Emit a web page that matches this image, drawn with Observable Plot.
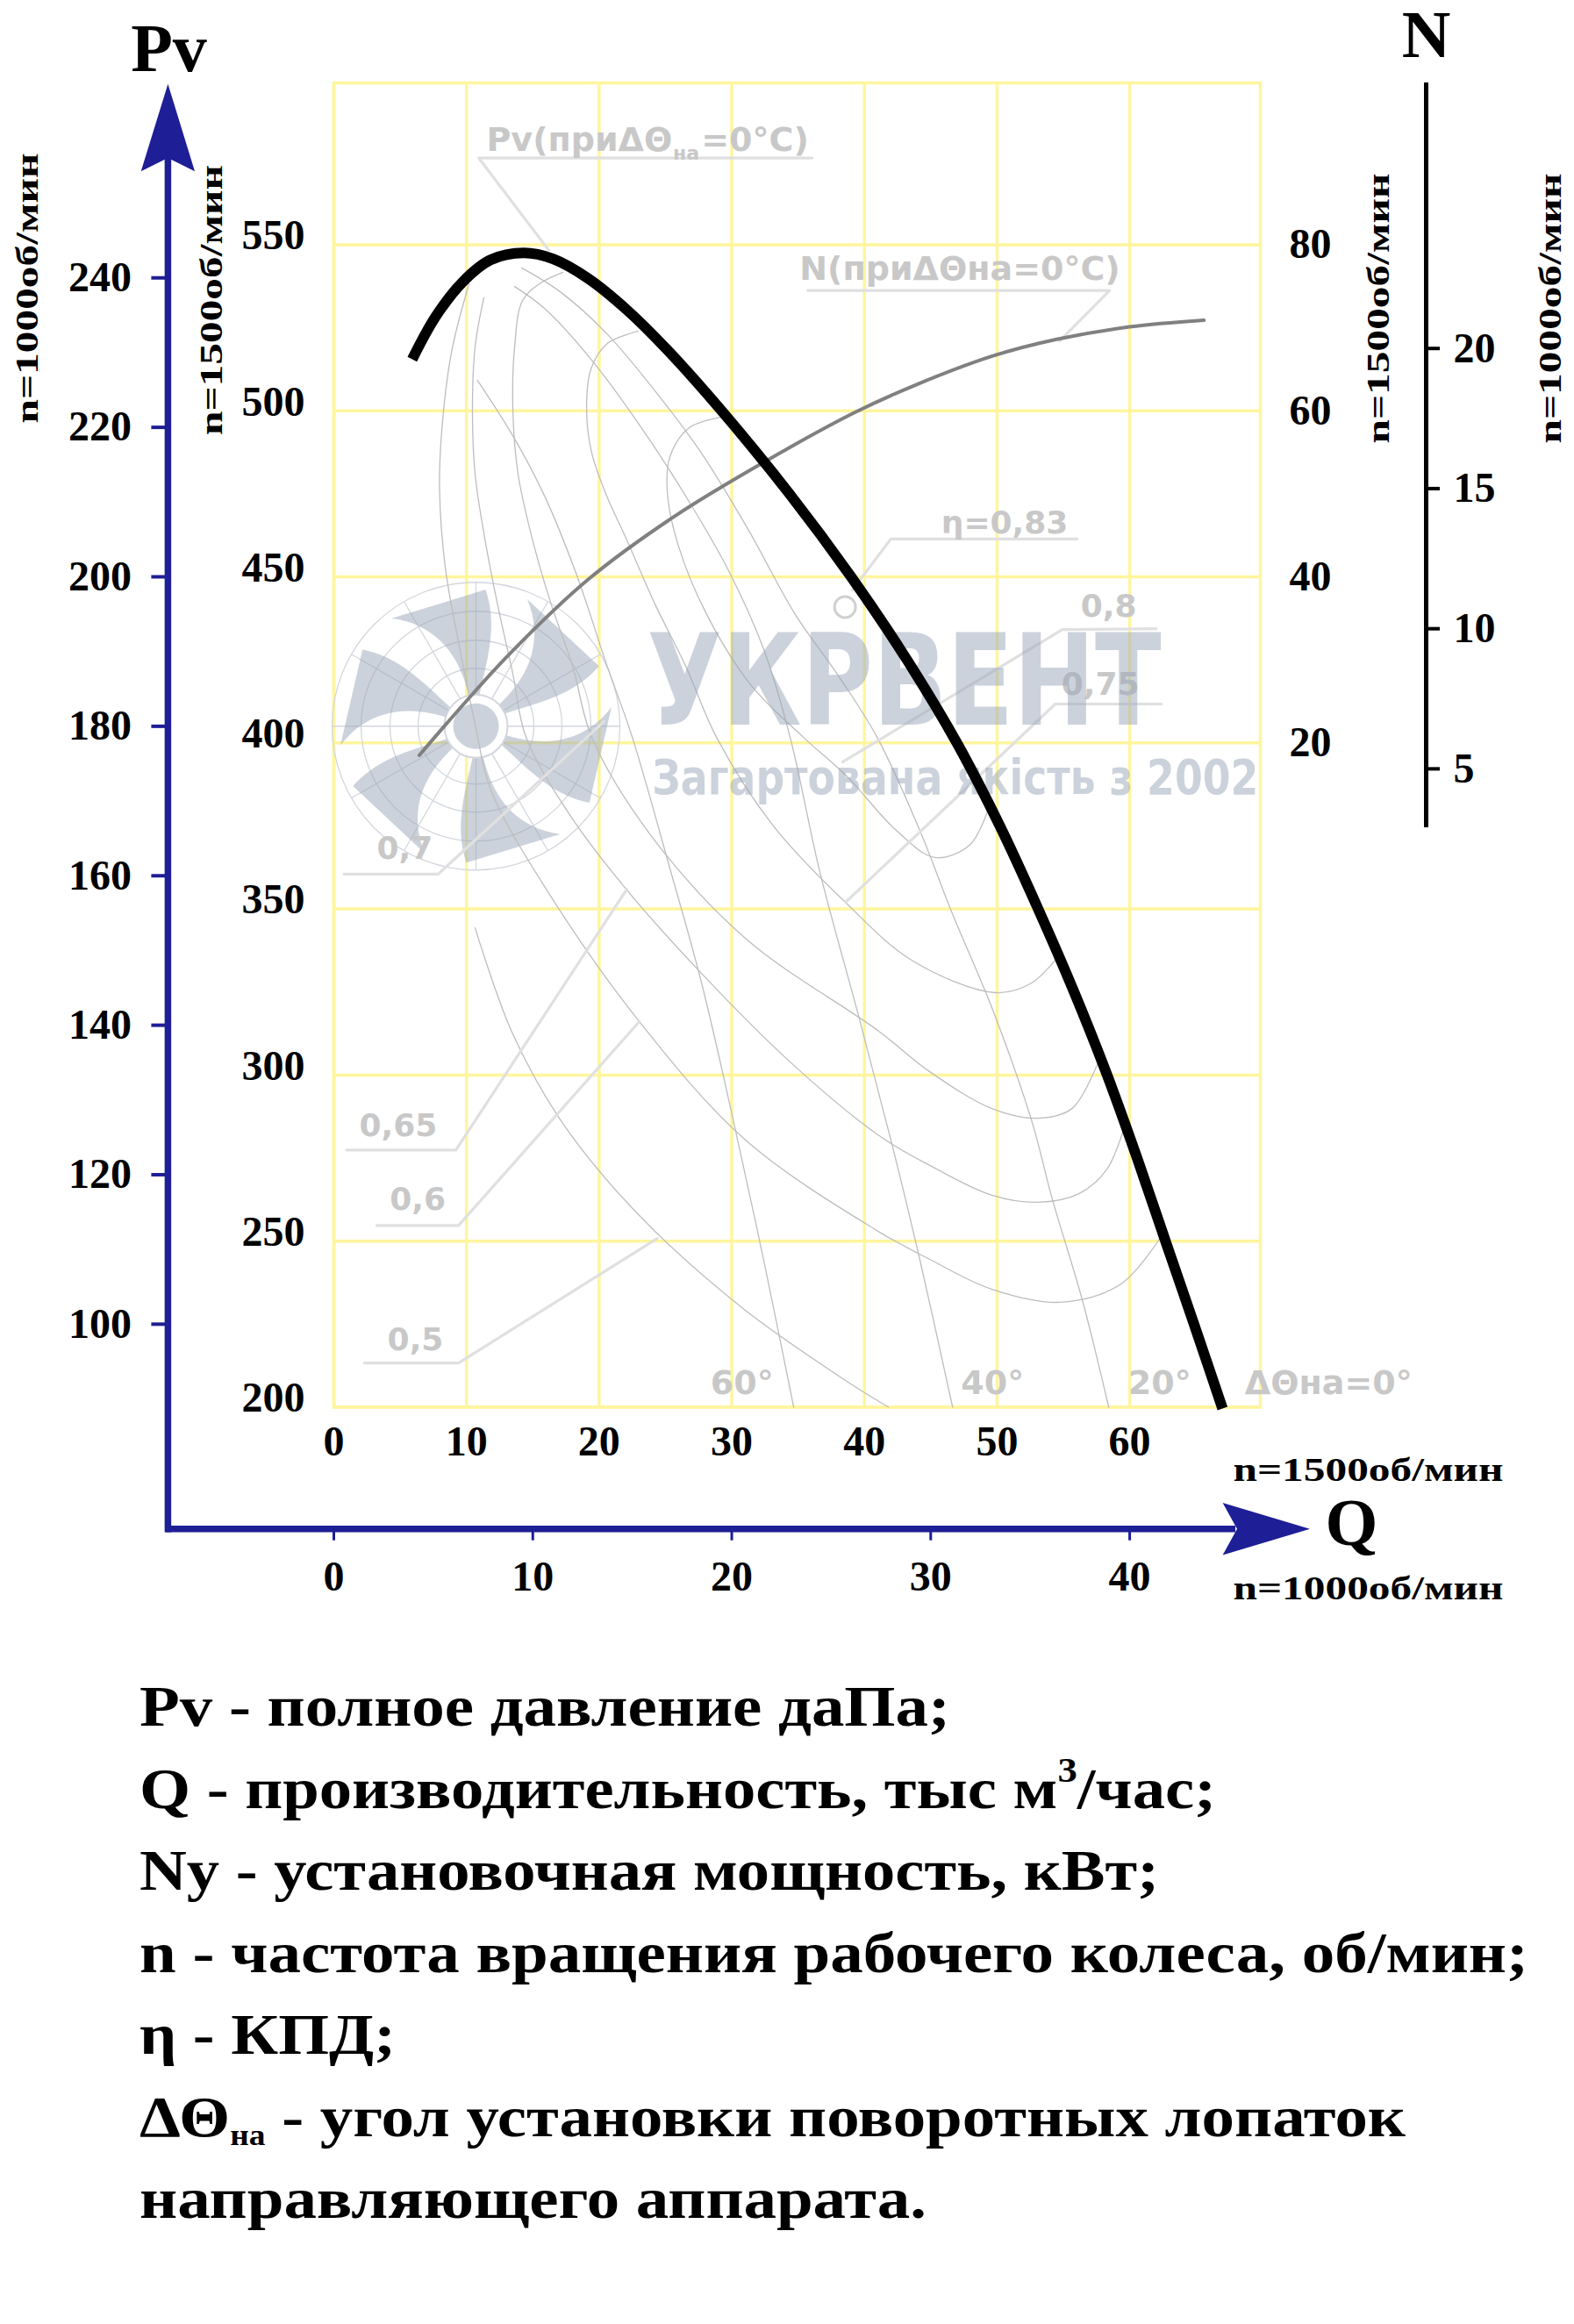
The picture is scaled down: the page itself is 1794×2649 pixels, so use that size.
<!DOCTYPE html>
<html lang="ru">
<head>
<meta charset="utf-8">
<script src="https://cdn.jsdelivr.net/npm/d3@7"></script>
<script src="https://cdn.jsdelivr.net/npm/@observablehq/plot@0.6"></script>
<style>
html,body{margin:0;padding:0;background:#fff;overflow:hidden;}
#legend{font-family:"Liberation Serif",serif;font-weight:bold;font-size:66px;line-height:93.5px;color:#000;}
#legend .row{white-space:nowrap;padding-left:159px;}
#legend .row span{display:inline-block;transform-origin:0 50%;}
#legend sup{font-size:0.6em;line-height:0;vertical-align:0.75em;}
#legend sub{font-size:0.5em;line-height:0;vertical-align:-0.3em;}
</style>
</head>
<body>
<div id="chart"></div>
<div id="legend"></div>
<script>
// ---------- DATA (n = 1500 rpm scale) ----------
// thick Pv curve (ΔΘна = 0°): Q [тыс м³/час], Pv [даПа]
const pvQ   = [5.91, 7.67, 9.74, 11.81, 14.32, 16.53, 19.18, 22.14, 25.1, 29.23, 34.35, 39.0, 43.21, 46.97, 50.21, 53.1, 55.81, 58.3, 60.56, 62.7, 64.85, 67.0];
const pvVal = [515.5, 528.3, 538.9, 545.4, 547.5, 545.7, 539.8, 530.2, 518.5, 500, 475, 450, 425, 400, 375, 350, 325, 300, 275, 250, 225, 199.6];
// power curve N (ΔΘна = 0°), kW at 1500 rpm
const nQ   = [6.44, 9.75, 13.3, 19.19, 25.7, 32.2, 39.29, 43.86, 49.69, 54.49, 60.0, 65.6];
const nVal = [18.5, 24.6, 30.8, 39.7, 47.3, 53.6, 59.8, 63.1, 66.6, 68.6, 70.1, 70.9];

// efficiency contours η  ([Q, Pv])
const eta080 = [[29.24,498.1],[26.80,494.9],[25.34,486.2],[25.14,475.6],[25.94,459.8],[28.12,438.6],[31.43,417.5],[35.40,401.7],[38.71,389.8],[42.34,373.9],[45.32,365.5],[47.97,369.4],[49.36,380.3]];
const eta075 = [[22.96,524.0],[20.64,520.3],[19.39,512.6],[19.06,499.9],[19.45,487.2],[20.58,474.3],[22.03,461.6],[24.15,442.3],[26.53,423.1],[28.85,401.7],[33.08,375.3],[38.57,352.0],[43.67,334.3],[49.89,324.8],[52.60,327.7],[54.65,335.9]];
const eta070 = [[17.27,541.7],[15.61,538.5],[14.23,533.2],[13.63,519.2],[13.50,499.9],[13.89,480.9],[14.95,461.6],[16.34,442.3],[18.00,423.1],[19.45,401.7],[23.82,372.6],[31.10,340.9],[41.02,313.4],[44.93,301.0],[49.62,289.9],[53.06,287.0],[55.64,289.9],[57.63,303.9]];
const eta065 = [[11.31,534.0],[10.65,519.2],[10.45,499.9],[10.65,480.9],[11.38,461.6],[12.31,442.3],[13.50,420.7],[14.49,401.7],[17.86,377.9],[22.03,356.0],[27.79,330.3],[34.41,303.9],[41.02,282.0],[44.93,272.8],[49.62,263.8],[53.06,261.7],[56.17,264.3],[58.29,271.7],[59.75,286.2]];
const eta060 = [[10.19,538.2],[8.87,517.6],[8.14,494.1],[7.97,476.4],[8.40,452.9],[9.46,429.1],[10.65,405.6],[11.84,385.8],[15.88,356.8],[23.03,316.1],[31.10,280.2],[41.02,253.0],[44.93,244.5],[49.62,235.5],[54.78,231.6],[59.35,237.1],[62.46,251.9]];
const eta050 = [[10.65,344.3],[13.43,312.9],[17.27,285.4],[23.03,257.7],[30.70,230.2],[38.37,208.6],[41.82,200]];
// Pv curves for other guide-vane angles ΔΘна
const angle20 = [[14.16,543.0],[17.07,535.8],[20.58,523.2],[24.15,506.3],[27.72,487.2],[31.23,464.3],[34.80,438.6],[38.04,420.2],[40.96,401.7],[44.13,374.1],[46.58,349.1],[49.66,319.8],[52.63,286.0],[54.12,263.3],[56.44,232.1],[58.42,200]];
const angle40 = [[13.63,537.4],[15.88,530.8],[19.45,515.2],[22.96,496.2],[26.53,474.3],[29.77,451.8],[32.42,428.1],[34.40,401.7],[36.65,361.0],[39.57,317.7],[42.15,278.1],[44.13,245.3],[46.65,200]];
const angle60 = [[10.82,509.2],[13.52,492.3],[15.88,474.4],[18.24,451.3],[20.60,423.2],[22.50,401.7],[25.33,362.3],[27.70,328.1],[30.06,287.4],[32.42,244.0],[34.67,200]];

// leader lines of the curve labels
const leadPv  = [[36.06,576.1],[10.92,576.1],[16.21,548.3]];
const leadN   = [[35.73,536.2],[58.49,536.2],[54.72,521.0]];
const lead083 = [[39.09,446.0],[42.0,461.4],[56.04,461.4]];
const lead080 = [[62.0,434.4],[54.92,434.1],[38.37,394.3]];
const lead075 = [[62.39,411.7],[54.39,411.7],[38.57,352.0]];
const lead070 = [[0.77,360.5],[7.87,360.5],[20.35,406.4]];
const lead065 = [[0.96,277.4],[9.20,277.4],[22.08,355.9]];
const lead060 = [[3.24,254.7],[9.40,254.7],[23.03,316.1]];
const lead050 = [[2.30,213.3],[9.40,213.3],[24.38,250.8]];
const bestPoint = [{q:38.54, pv:440.9}];

// labels
const etaLabels = [
  {text:"η=0,83", q:45.79, pv:463.2}, {text:"0,8", q:56.31, pv:437.9}, {text:"0,75", q:54.85, pv:414.6},
  {text:"0,7", q:3.24, pv:365.2}, {text:"0,65", q:1.92, pv:281.5}, {text:"0,6", q:4.22, pv:259.3}, {text:"0,5", q:4.04, pv:217.3}
];
const angleLabels = [{text:"60°", q:30.77, pv:204}, {text:"40°", q:49.66, pv:204}, {text:"20°", q:62.26, pv:204}];
const zeroLabel = [{text:"ΔΘна=0°", q:68.68, pv:204}];
const curveLabelsBig = [{text:"Pv(приΔΘ", q:11.51, pv:578.1}, {text:"=0°C)", q:27.70, pv:578.1}, {text:"N(приΔΘна=0°C)", q:35.11, pv:539.3}];
const curveLabelsSub = [{text:"на", q:25.57, pv:575.7}];
const watermarkBig = [{text:"УКРВЕНТ", q:23.62, pv:405.6}];
const watermarkSmall = [{text:"Загартована якість з 2002", q:24.0, pv:384.5}];
const logoAt = {q:10.75, pv:404.9};

// axis ticks
const pv1500Ticks = [200, 250, 300, 350, 400, 450, 500, 550];
const pv1000Ticks = [100, 120, 140, 160, 180, 200, 220, 240];
const q1500Ticks  = [0, 10, 20, 30, 40, 50, 60];
const q1000Ticks  = [0, 10, 20, 30, 40];
const n1500Ticks  = [20, 40, 60, 80];
const n1000Ticks  = [5, 10, 15, 20];
const n1000AxisMin = 2.9;

const legendLines = [
  "Pv - полное давление даПа;",
  "Q - производительность, тыс м<sup>3</sup>/час;",
  "Ny - установочная мощность, кВт;",
  "n - частота вращения рабочего колеса, об/мин;",
  "η - КПД;",
  "ΔΘ<sub>на</sub> - угол установки поворотных лопаток",
  "направляющего аппарата."
];

// ---------- conversions ----------
const k = 1500 / 1000;                 // speed ratio (fan laws)
const nToPv = n => 350 + 2.5 * n;      // N(1500) axis shares the Pv frame: 0 kW ↔ 350, 80 kW ↔ 550
const toRows = obj => Object.entries(obj).flatMap(([id, pts]) => pts.map(([q, pv]) => ({id, q, pv})));
const thinRows = toRows({eta080, eta075, eta070, eta065, eta060, eta050, angle20, angle40, angle60});
const leaderRows = toRows({leadPv, leadN, lead083, lead080, lead075, lead070, lead065, lead060, lead050});
const pvRows = pvQ.map((q, i) => ({q, pv: pvVal[i]}));
const nRows = nQ.map((q, i) => ({q, pv: nToPv(nVal[i])}));

// ---------- layout & style ----------
const W = 1794, H = 1898, ML = 380, MR = 358, MT = 94, MB = 294.5;
const yellow = "#fff59d", blue = "#1e1e96", faint = "#bdbdbd", leaderC = "#e0e0e0", labelC = "#c8c8c8";
const wmColor = "#9aa5b8", wmOpacity = 0.5;
const serif = '"Liberation Serif", serif', sans = '"DejaVu Sans", sans-serif';

const frameText = (t, anchor, dx, dy, o = {}) =>
  Plot.text([t], {frameAnchor: anchor, text: d => d, dx, dy, fontFamily: serif, fontWeight: "bold", lineAnchor: "bottom", fill: "black", ...o});

const chart = Plot.plot({
  width: W, height: H, marginLeft: ML, marginRight: MR, marginTop: MT, marginBottom: MB,
  x: {domain: [0, 69.85], axis: null},
  y: {domain: [200, 598.7], axis: null},
  style: {fontFamily: serif, fontWeight: "bold", fontSize: "48px", background: "white", overflow: "visible", maxWidth: "none"},
  marks: [
    Plot.gridX(q1500Ticks, {stroke: yellow, strokeOpacity: 1, strokeWidth: 3.5}),
    Plot.gridY(pv1500Ticks, {stroke: yellow, strokeOpacity: 1, strokeWidth: 3.5}),
    Plot.frame({stroke: yellow, strokeWidth: 3.5}),
    // thin η contours and ΔΘ curves
    Plot.line(thinRows, {x: "q", y: "pv", z: "id", curve: "catmull-rom", stroke: faint, strokeWidth: 1.3}),
    // label leaders
    Plot.line(leaderRows, {x: "q", y: "pv", z: "id", stroke: leaderC, strokeWidth: 3.2}),
    Plot.dot(bestPoint, {x: "q", y: "pv", r: 12, stroke: "#d0d0d0", strokeWidth: 3, fill: "none"}),
    Plot.text(etaLabels, {x: "q", y: "pv", text: "text", fontFamily: sans, fontWeight: "bold", fontSize: 36, fill: labelC, textAnchor: "start", lineAnchor: "bottom"}),
    Plot.text(angleLabels, {x: "q", y: "pv", text: "text", fontFamily: sans, fontWeight: "bold", fontSize: 38, fill: labelC, textAnchor: "middle", lineAnchor: "bottom"}),
    Plot.text(zeroLabel, {x: "q", y: "pv", text: "text", fontFamily: sans, fontWeight: "bold", fontSize: 38, fill: labelC, textAnchor: "start", lineAnchor: "bottom"}),
    Plot.text(curveLabelsBig, {x: "q", y: "pv", text: "text", fontFamily: sans, fontWeight: "bold", fontSize: 38, fill: labelC, textAnchor: "start", lineAnchor: "bottom"}),
    Plot.text(curveLabelsSub, {x: "q", y: "pv", text: "text", fontFamily: sans, fontWeight: "bold", fontSize: 22, fill: labelC, textAnchor: "start", lineAnchor: "bottom"}),
    // watermark
    Plot.text(watermarkBig, {x: "q", y: "pv", text: "text", fontFamily: sans, fontWeight: "bold", fontSize: 144, fill: wmColor, fillOpacity: wmOpacity, textAnchor: "start", lineAnchor: "bottom"}),
    Plot.text(watermarkSmall, {x: "q", y: "pv", text: "text", fontFamily: sans, fontWeight: "bold", fontSize: 56, fill: wmColor, fillOpacity: wmOpacity, textAnchor: "start", lineAnchor: "bottom"}),
    // curves
    Plot.line(nRows, {x: "q", y: "pv", curve: "catmull-rom", stroke: "#808080", strokeWidth: 4}),
    Plot.line(pvRows, {x: "q", y: "pv", curve: "catmull-rom", stroke: "black", strokeWidth: 12, strokeLinecap: "butt", strokeLinejoin: "round"}),
    // axes
    Plot.axisY(pv1500Ticks, {anchor: "left", tickSize: 0, tickPadding: 33, dy: -10, fontSize: 48, fill: "black", label: null}),
    Plot.axisY(pv1000Ticks.map(v => v * k * k), {anchor: "left", dx: -188.6, tickSize: 19, tickPadding: 23, stroke: blue, strokeWidth: 4, fill: "black", fontSize: 48, tickFormat: d => String(Math.round(d / (k * k))), label: null}),
    Plot.axisY(n1500Ticks.map(nToPv), {anchor: "right", tickSize: 0, tickPadding: 33, fontSize: 48, fill: "black", tickFormat: d => String(Math.round((d - 350) / 2.5)), label: null}),
    Plot.axisY(n1000Ticks.map(n => nToPv(n * k ** 3)), {anchor: "right", dx: 189, tickSize: 15, tickPadding: 16, stroke: "black", strokeWidth: 4, fill: "black", fontSize: 48, tickFormat: d => String(Math.round((d - 350) / 2.5 / k ** 3)), label: null}),
    Plot.ruleX([69.85], {dx: 189, y1: nToPv(n1000AxisMin * k ** 3), y2: 598.7, stroke: "black", strokeWidth: 5}),
    Plot.axisX(q1500Ticks, {anchor: "bottom", tickSize: 0, tickPadding: 20.5, fontSize: 48, fill: "black", label: null}),
    Plot.axisX(q1000Ticks.map(v => v * k), {anchor: "bottom", dy: 139.2, tickSize: 13, tickPadding: 23, stroke: blue, strokeWidth: 3, fill: "black", fontSize: 48, tickFormat: d => String(Math.round(d / k)), label: null}),
    // titles and speed labels
    frameText("Pv", "top-left", -188, -14, {fontSize: 78, textAnchor: "middle"}),
    frameText("N", "top-right", 189, -30, {fontSize: 77, textAnchor: "middle"}),
    frameText("Q", "bottom-right", 74, 156.5, {fontSize: 77, textAnchor: "start"}),
    frameText("n=1500об/мин", "bottom-right", -31, 83.5, {fontSize: 38, textAnchor: "start"}),
    frameText("n=1000об/мин", "bottom-right", -31, 218.5, {fontSize: 38, textAnchor: "start"}),
    frameText("n=1000об/мин", "top-left", -338, 234, {fontSize: 35, rotate: -90, textAnchor: "middle"}),
    frameText("n=1500об/мин", "top-left", -128, 247.5, {fontSize: 35, rotate: -90, textAnchor: "middle"}),
    frameText("n=1500об/мин", "top-right", 146, 257, {fontSize: 35, rotate: -90, textAnchor: "middle"}),
    frameText("n=1000об/мин", "top-right", 342, 257, {fontSize: 35, rotate: -90, textAnchor: "middle"})
  ]
});
document.getElementById("chart").appendChild(chart);

// ---------- post-render decoration ----------
const svg = d3.select(chart);
const xs = chart.scale("x"), ys = chart.scale("y");
const px = v => xs.apply(v), py = v => ys.apply(v);

// stretched lettering as in the original
const stretch = {"n=1000об/мин": 308, "n=1500об/мин": 308, "УКРВЕНТ": 586, "Загартована якість з 2002": 691};
svg.selectAll("text").each(function () {
  const w = stretch[this.textContent];
  if (w) { this.setAttribute("textLength", w); this.setAttribute("lengthAdjust", "spacingAndGlyphs"); }
});

// watermark fan logo (decorative), placed right above the frame
const frameNode = svg.select('[aria-label="frame"]').node();
const logo = d3.create("svg:g").attr("aria-label", "logo");
frameNode.parentNode.insertBefore(logo.node(), frameNode.nextSibling);
const cx = px(logoAt.q), cy = py(logoAt.pv);
const rings = [164, 131, 98, 66];
rings.forEach(r => logo.append("circle").attr("cx", cx).attr("cy", cy).attr("r", r).attr("fill", "none").attr("stroke", "#d3d6dd").attr("stroke-width", 1.3));
for (let a = 0; a < 360; a += 30) {
  const t = a * Math.PI / 180;
  logo.append("line").attr("x1", cx + 36 * Math.cos(t)).attr("y1", cy + 36 * Math.sin(t))
    .attr("x2", cx + 164 * Math.cos(t)).attr("y2", cy + 164 * Math.sin(t)).attr("stroke", "#d3d6dd").attr("stroke-width", 1.3);
}
function bladePath(a0) {
  const n = 20, r0 = 30, r1 = 156, sweep = -16;
  const lead = t => 9 + 15 * Math.pow(t, 0.8);    // half-width on leading side (deg)
  const trail = t => 9 + 9 * Math.pow(t, 1.6);    // half-width on trailing side (deg)
  const pt = (t, s) => {
    const r = r0 + (r1 - r0) * t, c = a0 + sweep * t * t;
    const a = (c + (s > 0 ? lead(t) : -trail(t))) * Math.PI / 180;
    return [cx + r * Math.cos(a), cy + r * Math.sin(a)];
  };
  const pts = [];
  for (let i = 0; i <= n; i++) pts.push(pt(i / n, 1));
  for (let i = n; i >= 0; i--) pts.push(pt(i / n, -1));
  return "M" + pts.map(p => p.join(",")).join("L") + "Z";
}
[-94, -34, 26, 86, 146, 206].forEach(a => logo.append("path").attr("d", bladePath(a)).attr("fill", wmColor).attr("fill-opacity", wmOpacity));
logo.append("circle").attr("cx", cx).attr("cy", cy).attr("r", 36).attr("fill", "white").attr("stroke", "#d3d6dd").attr("stroke-width", 2);
logo.append("circle").attr("cx", cx).attr("cy", cy).attr("r", 26).attr("fill", wmColor).attr("fill-opacity", wmOpacity);

// blue main axes with arrowheads
const axG = svg.append("g").attr("aria-label", "main axes");
const xL = ML - 188.6, yB = H - MB + 139.2, xR = W - MR;
axG.append("line").attr("x1", xL).attr("x2", xL).attr("y1", yB + 3.7).attr("y2", MT + 84).attr("stroke", blue).attr("stroke-width", 7.5);
axG.append("path").attr("fill", blue)
  .attr("d", `M${xL},${MT + 1.7}L${xL - 30.7},${MT + 101.2}L${xL},${MT + 86}L${xL + 30.6},${MT + 101.2}Z`);
axG.append("line").attr("x1", xL - 2.4).attr("x2", xR - 28).attr("y1", yB).attr("y2", yB).attr("stroke", blue).attr("stroke-width", 7.5);
axG.append("path").attr("fill", blue)
  .attr("d", `M${xR + 57},${yB}L${xR - 42.4},${yB - 29.7}L${xR - 26},${yB}L${xR - 42.4},${yB + 29.7}Z`);

// ---------- legend ----------
const legendWidths = [924, 1227, 1162, 1583, 292, 1443, 897];
const legendEl = document.getElementById("legend");
legendLines.forEach(html => {
  const row = document.createElement("div"); row.className = "row";
  const span = document.createElement("span"); span.innerHTML = html;
  row.appendChild(span); legendEl.appendChild(row);
});
legendEl.querySelectorAll(".row span").forEach((s, i) => {
  const w = s.getBoundingClientRect().width;
  if (w > 0) s.style.transform = `scaleX(${legendWidths[i] / w})`;
});
</script>
</body>
</html>
